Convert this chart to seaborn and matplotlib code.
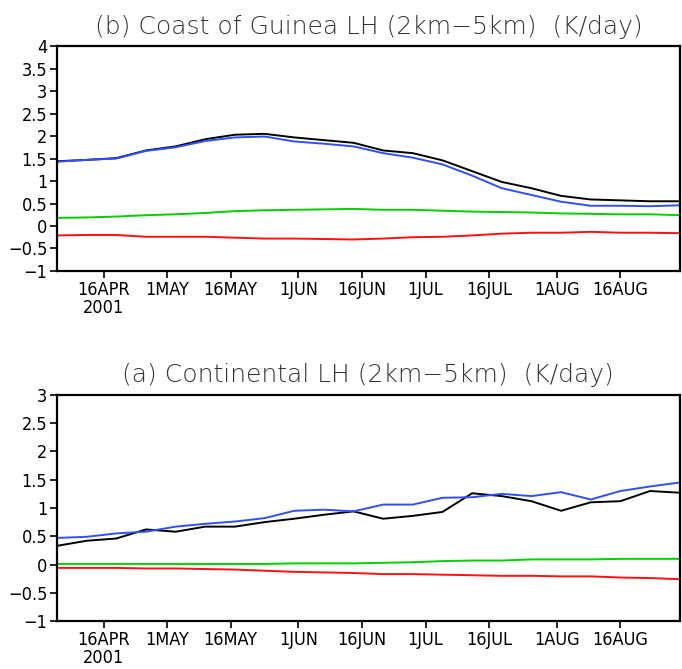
import pandas as pd
import numpy as np
import matplotlib
matplotlib.use("Agg")
import matplotlib.pyplot as plt
import seaborn as sns

# weekly dates, 5 Apr - 30 Aug 2001
dates = pd.date_range("2001-04-05", "2001-08-30", freq="7D")

# (b) Coast of Guinea
guinea_black = [1.44, 1.47, 1.51, 1.68, 1.77, 1.93, 2.03, 2.05, 1.97, 1.91, 1.85, 1.68, 1.62,
                1.46, 1.22, 0.98, 0.84, 0.67, 0.59, 0.57, 0.55, 0.55]
guinea_blue = [1.43, 1.47, 1.50, 1.67, 1.75, 1.89, 1.97, 1.99, 1.88, 1.83, 1.77, 1.62, 1.52,
               1.37, 1.12, 0.84, 0.69, 0.54, 0.45, 0.45, 0.44, 0.46]
guinea_green = [0.18, 0.19, 0.21, 0.24, 0.26, 0.29, 0.33, 0.35, 0.36, 0.37, 0.38, 0.36, 0.36,
                0.34, 0.32, 0.31, 0.30, 0.28, 0.27, 0.26, 0.26, 0.24]
guinea_red = [-0.21, -0.20, -0.20, -0.24, -0.24, -0.24, -0.26, -0.28, -0.28, -0.29, -0.30, -0.28,
              -0.25, -0.24, -0.21, -0.17, -0.15, -0.15, -0.13, -0.15, -0.15, -0.16]

# (a) Continental
cont_black = [0.33, 0.42, 0.46, 0.62, 0.58, 0.67, 0.67, 0.75, 0.81, 0.88, 0.94, 0.81, 0.86,
              0.93, 1.26, 1.21, 1.12, 0.95, 1.10, 1.12, 1.30, 1.27]
cont_blue = [0.47, 0.49, 0.55, 0.58, 0.67, 0.72, 0.76, 0.82, 0.95, 0.97, 0.94, 1.06, 1.06,
             1.18, 1.19, 1.25, 1.21, 1.28, 1.15, 1.30, 1.38, 1.45]
cont_green = [0.01, 0.01, 0.01, 0.01, 0.01, 0.01, 0.01, 0.01, 0.02, 0.02, 0.02, 0.03, 0.04,
              0.06, 0.07, 0.07, 0.09, 0.09, 0.09, 0.10, 0.10, 0.10]
cont_red = [-0.06, -0.06, -0.06, -0.07, -0.07, -0.08, -0.09, -0.11, -0.13, -0.14, -0.15, -0.17,
            -0.17, -0.18, -0.19, -0.20, -0.20, -0.21, -0.21, -0.23, -0.24, -0.26]

tick_dates = pd.to_datetime(["2001-04-16", "2001-05-01", "2001-05-16", "2001-06-01", "2001-06-16",
                             "2001-07-01", "2001-07-16", "2001-08-01", "2001-08-16"])
tick_labels = ["16APR\n2001", "1MAY", "16MAY", "1JUN", "16JUN", "1JUL", "16JUL", "1AUG", "16AUG"]

colors = {"black": "#000000", "blue": "#2f4fff", "green": "#00d200", "red": "#ff1010"}

sns.set_style("white")
plt.rcParams["font.family"] = ["DejaVu Sans"]

fig = plt.figure(figsize=(6.82, 6.69), dpi=100)
ax_top = fig.add_axes([0.0836, 0.595, 0.913, 0.336])
ax_bot = fig.add_axes([0.0836, 0.0717, 0.913, 0.338])

tick_font = dict(family="DejaVu Sans", fontstretch="condensed", fontsize=13, color="black")


def draw(ax, series, title, ymax):
    df = pd.DataFrame({"date": dates, **series})
    for name, col in colors.items():
        sns.lineplot(data=df, x="date", y=name, color=col, lw=1.4, ax=ax)
    ax.set_xlim(pd.Timestamp("2001-04-05"), pd.Timestamp("2001-08-30"))
    ax.set_ylim(-1, ymax)
    yt = np.arange(-1, ymax + 0.01, 0.5)
    ax.set_yticks(yt)
    ax.set_yticklabels([f"{v:g}".replace("-", "\u2212") for v in yt], **tick_font)
    ax.set_xticks(tick_dates)
    ax.set_xticklabels(tick_labels, linespacing=1.0, **tick_font)
    ax.tick_params(axis="both", direction="out", length=5, width=1.2, color="black",
                   bottom=True, left=True, pad=2)
    ax.set_xlabel("")
    ax.set_ylabel("")
    for s in ax.spines.values():
        s.set_color("black")
        s.set_linewidth(1.6)
    ax.set_title(title, fontsize=18, color="#333333", fontweight="light", pad=9)


draw(ax_top, {"black": guinea_black, "blue": guinea_blue, "green": guinea_green, "red": guinea_red},
     "(b) Coast of Guinea LH (2km\u22125km)  (K/day)", 4)
draw(ax_bot, {"black": cont_black, "blue": cont_blue, "green": cont_green, "red": cont_red},
     "(a) Continental LH (2km\u22125km)  (K/day)", 3)

fig.savefig("out.png", dpi=100)
